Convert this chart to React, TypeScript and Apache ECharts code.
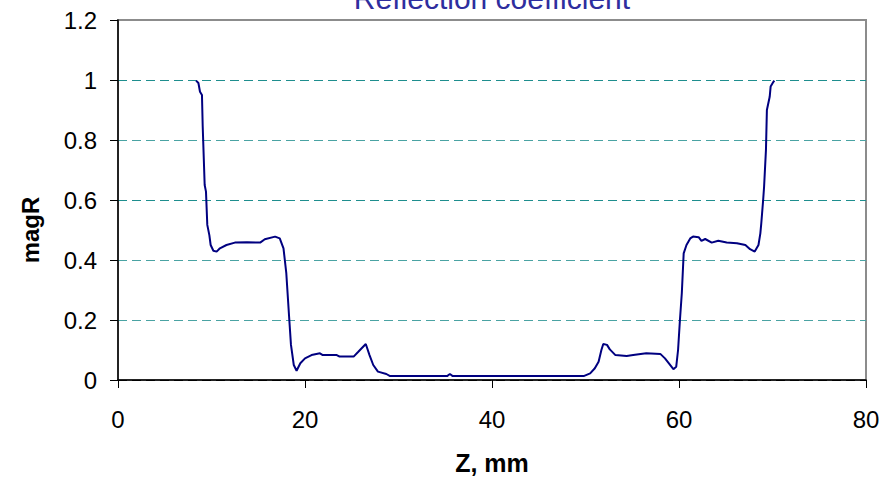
import React, { useEffect, useRef } from "react";
import * as echarts from "echarts";

const titleText = "Reflection coefficient";
const xAxisName = "Z, mm";
const yAxisName = "magR";

const zValues = [
  8.35, 8.6, 8.77, 8.98, 9.06, 9.27, 9.41, 9.55, 9.77, 9.91, 10.2, 10.55, 10.9, 11.6, 12.5,
  13.8, 15.2, 15.7, 16.8, 17.3, 17.7, 18.0, 18.3, 18.5, 18.8, 19.1, 19.5, 20.0, 20.7,
  21.6, 21.9, 23.4, 23.7, 25.2, 25.7, 26.5, 26.9, 27.3, 27.8, 28.7, 29.1, 35.2, 35.5,
  35.8, 49.8, 50.5, 51.0, 51.4, 51.7, 51.9, 52.3, 52.6, 53.2, 54.4, 55.1, 56.5, 58.0,
  58.5, 58.9, 59.4, 59.7, 59.9, 60.1, 60.3, 60.5, 60.8, 61.2, 61.5, 62.1, 62.4, 62.8,
  63.5, 64.2, 65.1, 66.2, 67.1, 67.6, 68.1, 68.5, 68.7, 68.8, 69.0, 69.1, 69.3, 69.4,
  69.7, 69.8, 70.1, 70.2,
];

const magR = [
  0.998, 0.99, 0.961, 0.95, 0.845, 0.65, 0.628, 0.517, 0.483, 0.45, 0.431, 0.428, 0.439, 0.45, 0.458,
  0.459, 0.458, 0.469, 0.478, 0.472, 0.439, 0.356, 0.211, 0.117, 0.05, 0.031, 0.056, 0.072, 0.083,
  0.089, 0.083, 0.083, 0.078, 0.078, 0.094, 0.12, 0.083, 0.05, 0.028, 0.02, 0.013, 0.013, 0.02,
  0.013, 0.013, 0.022, 0.039, 0.061, 0.1, 0.12, 0.117, 0.102, 0.083, 0.08, 0.083, 0.089, 0.087,
  0.072, 0.056, 0.036, 0.044, 0.1, 0.2, 0.289, 0.422, 0.45, 0.472, 0.478, 0.476, 0.464, 0.47,
  0.458, 0.464, 0.458, 0.456, 0.45, 0.436, 0.428, 0.45, 0.489, 0.522, 0.6, 0.644, 0.767, 0.9,
  0.944, 0.978, 0.994, 0.998,
];

const font = '"Liberation Sans", Arial, sans-serif';

export default function App() {
  const ref = useRef<HTMLDivElement>(null);
  useEffect(() => {
    if (!ref.current) return;
    const chart = echarts.init(ref.current, null, { renderer: "svg" });
    const data = zValues.map((z, i) => [z, magR[i]]);
    chart.setOption({
      animation: false,
      backgroundColor: "#ffffff",
      grid: {
        left: 118,
        right: 18,
        top: 20,
        bottom: 106,
        show: true,
        borderColor: "#8c8c8c",
        borderWidth: 2,
      },
      graphic: [
        {
          type: "text",
          x: 492,
          y: -2,
          style: {
            text: titleText,
            fill: "#2e2e9e",
            font: '30px "Liberation Sans", Arial, sans-serif',
            align: "center",
            verticalAlign: "middle",
          },
        },
        {
          type: "text",
          x: 30,
          y: 230,
          rotation: Math.PI / 2,
          style: {
            text: yAxisName,
            fill: "#000",
            font: 'bold 24px "Liberation Sans", Arial, sans-serif',
            align: "center",
            verticalAlign: "middle",
          },
        },
      ],
      xAxis: {
        type: "value",
        min: 0,
        max: 80,
        interval: 20,
        name: xAxisName,
        nameLocation: "middle",
        nameGap: 70,
        nameTextStyle: { fontFamily: font, fontWeight: "bold", fontSize: 25, color: "#000" },
        axisLine: { show: true, lineStyle: { color: "#000", width: 1.5 } },
        axisTick: { show: true, length: 8, lineStyle: { color: "#000", width: 1 } },
        axisLabel: { fontFamily: font, fontSize: 24, color: "#000", margin: 27 },
        splitLine: { show: false },
      },
      yAxis: {
        type: "value",
        min: 0,
        max: 1.2,
        interval: 0.2,
        axisLine: { show: true, lineStyle: { color: "#000", width: 1.5 } },
        axisTick: { show: true, length: 8, lineStyle: { color: "#000", width: 1 } },
        axisLabel: { fontFamily: font, fontSize: 24, color: "#000", margin: 21 },
        splitLine: {
          show: true,
          lineStyle: {
            color: ["#000", "#4aa3a3", "#4aa3a3", "#1e8e8e", "#4aa3a3", "#1e8e8e", "#8c8c8c"],
            type: [9, 5],
            width: 1,
          },
        },
      },
      series: [
        {
          type: "line",
          data,
          showSymbol: false,
          symbol: "none",
          lineStyle: { color: "#000080", width: 2 },
          z: 5,
        },
      ],
    });
    return () => chart.dispose();
  }, []);
  return (
    <div
      ref={ref}
      style={{ position: "fixed", left: 0, top: 0, width: 884, height: 486, background: "#fff" }}
    />
  );
}
